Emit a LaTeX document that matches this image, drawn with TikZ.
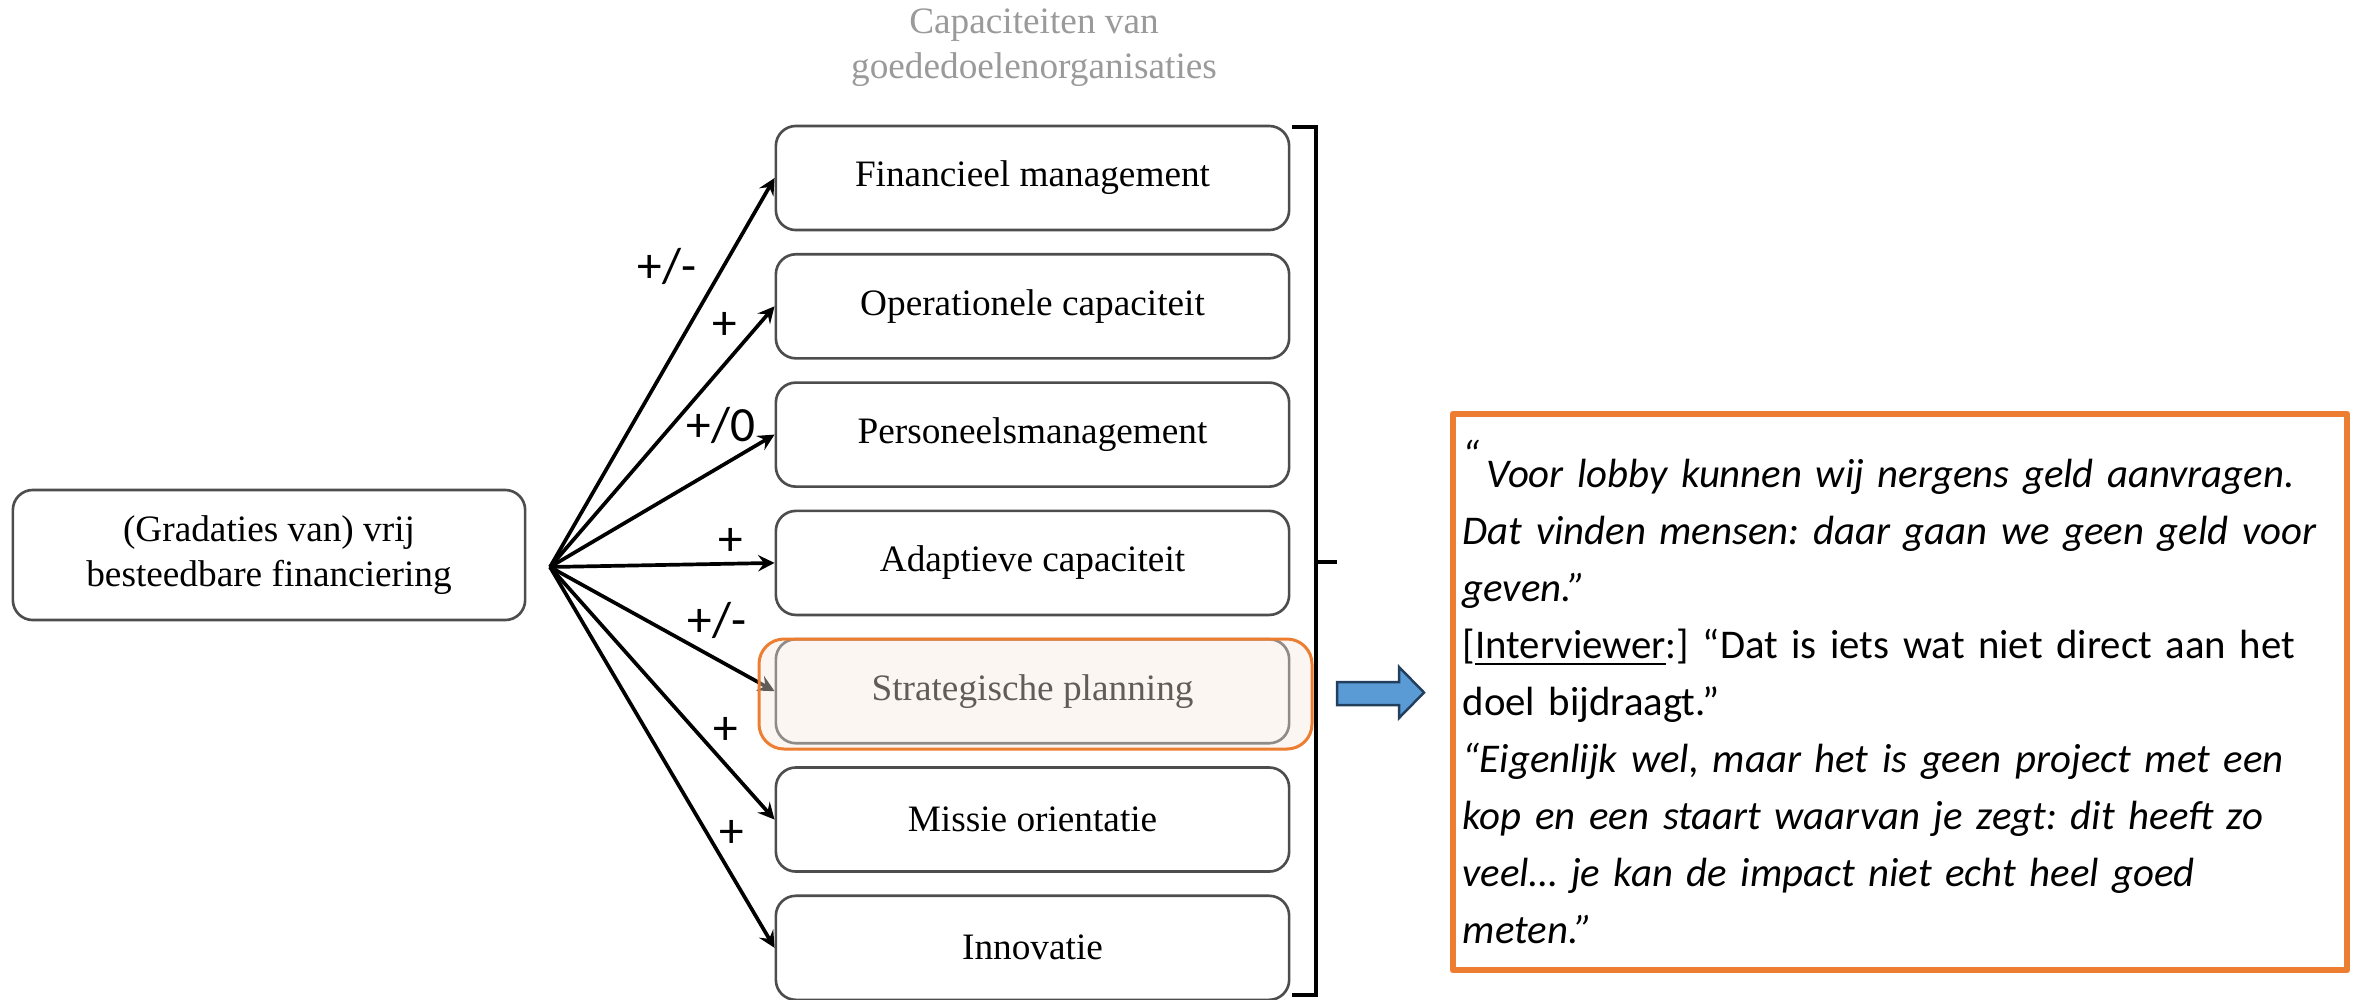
\documentclass[tikz,border=0pt]{standalone}
\usepackage{fontspec}
\setmainfont{Liberation Serif}
\newfontfamily\calibri{Carlito}
\definecolor{boxgray}{HTML}{4D4D4D}
\definecolor{titlegray}{HTML}{9A9A9A}
\definecolor{quoteorange}{HTML}{ED7D31}
\definecolor{hilitefill}{RGB}{245,232,222}
\definecolor{pointerblue}{HTML}{5B9BD5}
\definecolor{pointeredge}{HTML}{223F5E}
\frenchspacing
\begin{document}
\begin{tikzpicture}[x=0.01cm,y=-0.01cm,line join=round,>=stealth]
            \tikzset{capbox/.style={draw=boxgray,line width=0.75pt,rounded corners=0.2cm,
                minimum width=5.13cm,minimum height=1.04cm,font=\fontsize{10.6}{12.8}\selectfont},
                sign/.style={font=\calibri\fontsize{14}{16}\selectfont},
                fanarrow/.style={->,line width=1.05pt}}
            \def \capx{1032.5}
            \def \captop{178}
            \def \capstep{128.3}
            \useasboundingbox (0,0) rectangle (2364,999);
            \node[capbox,minimum width=5.12cm,minimum height=1.30cm,align=center] (funding) at (269,555)
                {(Gradaties van) vrij\\besteedbare financiering};
            \node[font=\fontsize{10.6}{12.8}\selectfont,text=titlegray,align=center] (title) at (1034,48)
                {Capaciteiten van\\goededoelenorganisaties};
            \foreach \name/\txt [count=\i] in {fin/Financieel management,oper/Operationele capaciteit,
                pers/Personeelsmanagement,adapt/Adaptieve capaciteit,strat/Strategische planning,
                miss/Missie orientatie,innov/Innovatie}
            \node[capbox] (\name) at (\capx,{\captop+\capstep*(\i-1)}) {\txt};
            \coordinate (fan) at (550,567);
            \foreach \name in {fin,oper,pers,adapt,strat,miss,innov}
            \draw[fanarrow] (fan)--(\name.west);
            \node[sign] (s1) at (667,266) {+/-};
            \node[sign] (s2) at (725,326) {+};
            \node[sign] (s3) at (721,425) {+/0};
            \node[sign] (s4) at (731,542) {+};
            \node[sign] (s5) at (717,620) {+/-};
            \node[sign] (s6) at (726,731) {+};
            \node[sign] (s7) at (732,834) {+};
            \draw[quoteorange,line width=0.85pt,rounded corners=0.25cm,fill=hilitefill,fill opacity=0.4]
                (759,639) rectangle (1312,749);
            \draw[line width=1.1pt,line join=miter] (1292,127)--(1316,127)--(1316,995)--(1292,995);
            \draw[line width=1.1pt] (1316,562)--(1337,562);
            \draw[pointeredge,line width=0.7pt,fill=pointerblue,line join=miter]
                (1337,682)--(1399,682)--(1399,667)--(1424,692.5)--(1399,718)--(1399,705)--(1337,705)--cycle;
            \node[draw=quoteorange,line width=1.7pt,inner xsep=0.1cm,text width=8.74cm,minimum height=5.56cm,
                align=left,font=\calibri\fontsize{11.6}{16.2}\selectfont] (quote) at (1900,692)
                {\itshape\raisebox{0.45em}{“}\,Voor lobby kunnen wij nergens geld aanvragen.\\
                Dat vinden mensen: daar gaan we geen geld voor\\
                geven.”\\
                \upshape[\underline{Interviewer}:] “Dat is iets wat niet direct aan het\\
                doel bijdraagt.”\\
                \itshape “Eigenlijk wel, maar het is geen project met een\\
                kop en een staart waarvan je zegt: dit heeft zo\\
                veel… je kan de impact niet echt heel goed\\
                meten.”};
        \end{tikzpicture}
\end{document}
